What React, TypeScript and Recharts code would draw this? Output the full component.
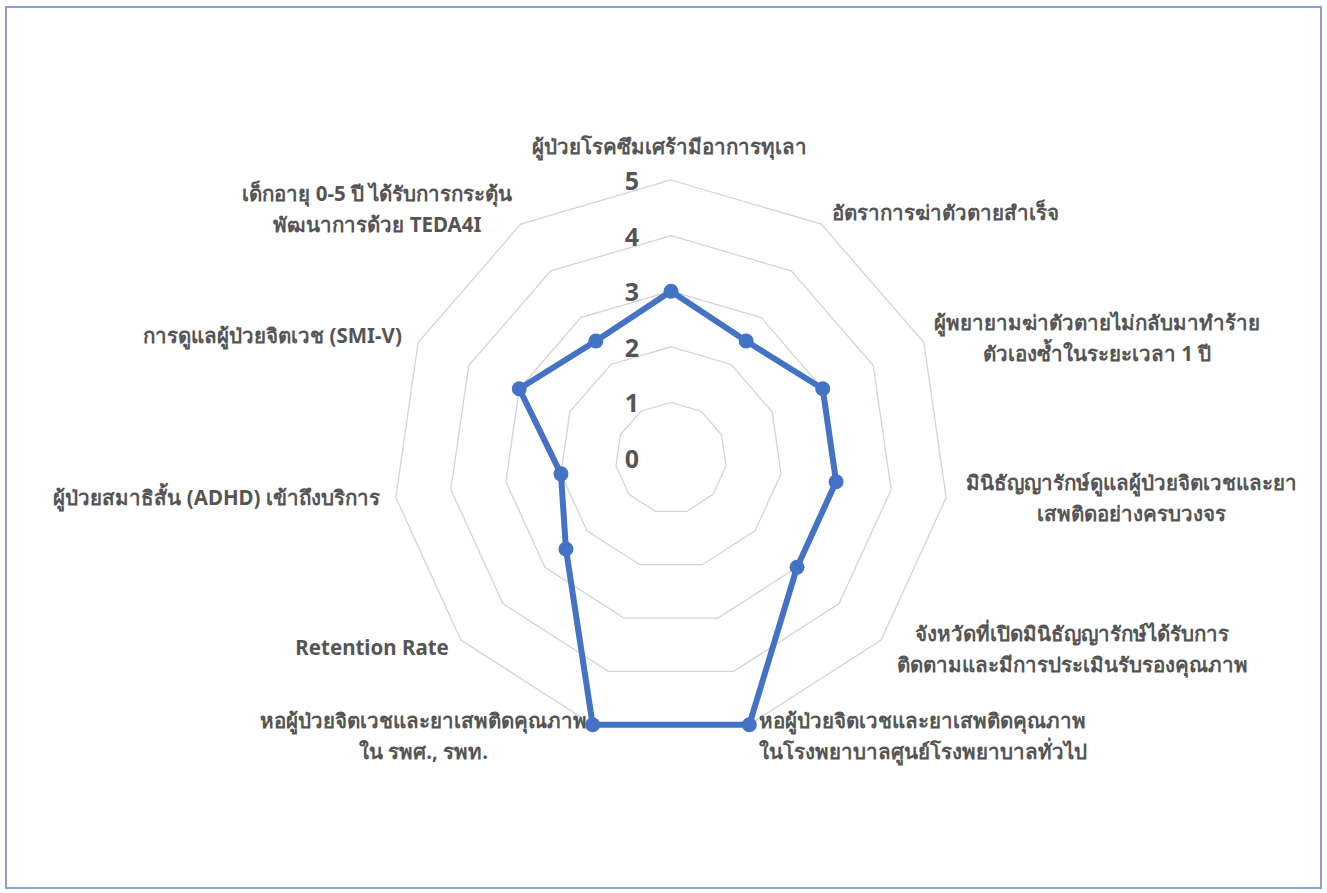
import React from "react";
import { RadarChart, Radar, PolarGrid, PolarAngleAxis, PolarRadiusAxis } from "recharts";

// Indicator names (line breaks mark where a label wraps)
const categories: string[] = [
  "ผู้ป่วยโรคซึมเศร้ามีอาการทุเลา",
  "อัตราการฆ่าตัวตายสำเร็จ",
  "ผู้พยายามฆ่าตัวตายไม่กลับมาทำร้าย\nตัวเองซ้ำในระยะเวลา 1 ปี",
  "มินิธัญญารักษ์ดูแลผู้ป่วยจิตเวชและยา\nเสพติดอย่างครบวงจร",
  "จังหวัดที่เปิดมินิธัญญารักษ์ได้รับการ\nติดตามและมีการประเมินรับรองคุณภาพ",
  "หอผู้ป่วยจิตเวชและยาเสพติดคุณภาพ\nในโรงพยาบาลศูนย์โรงพยาบาลทั่วไป",
  "หอผู้ป่วยจิตเวชและยาเสพติดคุณภาพ\nใน รพศ., รพท.",
  "Retention Rate",
  "ผู้ป่วยสมาธิสั้น (ADHD) เข้าถึงบริการ",
  "การดูแลผู้ป่วยจิตเวช (SMI-V)",
  "เด็กอายุ 0-5 ปี ได้รับการกระตุ้น\nพัฒนาการด้วย TEDA4I",
];

// Score per indicator
const scores: number[] = [3, 2.5, 3, 3, 3, 5, 5, 2.5, 2, 3, 2.5];

// Radial scale ticks
const radiusTicks: number[] = [0, 1, 2, 3, 4, 5];

const data = categories.map((name, i) => ({ name, value: scores[i] }));

// Label placement relative to each angle-axis tick point
const labelLayout: { dx: number; dy: number; anchor: "start" | "middle" | "end" }[] = [
  { dx: -2, dy: -26, anchor: "middle" },
  { dx: 6, dy: -5, anchor: "start" },
  { dx: 166, dy: -17, anchor: "middle" },
  { dx: 177, dy: -17, anchor: "middle" },
  { dx: 185, dy: -12, anchor: "middle" },
  { dx: 171, dy: -12, anchor: "middle" },
  { dx: -167, dy: -12, anchor: "middle" },
  { dx: -6, dy: 2, anchor: "end" },
  { dx: -8, dy: -2, anchor: "end" },
  { dx: -9, dy: -4, anchor: "end" },
  { dx: -139, dy: -24, anchor: "middle" },
];

const FONT = "'Noto Sans', 'DejaVu Sans', sans-serif";
const TEXT = "#555555";
const SERIES = "#4472c4";
const LINE_GAP = 31;

const AngleTick = (props: any) => {
  const { x, y, payload } = props;
  const idx = props.index ?? payload?.index ?? 0;
  const lay = labelLayout[idx] || { dx: 0, dy: 0, anchor: "middle" };
  const lines = String(payload.value).split("\n");
  return (
    <g>
      {lines.map((ln, k) => (
        <text
          key={k}
          x={x + lay.dx}
          y={y + lay.dy + k * LINE_GAP}
          textAnchor={lay.anchor}
          dominantBaseline="central"
          fill={TEXT}
          fontFamily={FONT}
          fontWeight={700}
          fontSize={20.5}
        >
          {ln}
        </text>
      ))}
    </g>
  );
};

const RadiusTick = (props: any) => {
  const { x, y, payload } = props;
  return (
    <text
      x={x - 39}
      y={y}
      textAnchor="middle"
      dominantBaseline="central"
      fill={TEXT}
      fontFamily={FONT}
      fontWeight={700}
      fontSize={25}
    >
      {payload.value}
    </text>
  );
};

const SeriesDot = (p: any) => (
  <circle key={`dot-${p.index}`} cx={p.cx} cy={p.cy} r={7.5} fill={SERIES} stroke="none" />
);

export default function App() {
  return (
    <div style={{ position: "absolute", left: 0, top: 0, width: 1327, height: 893, background: "#fff" }}>
      <div
        style={{
          position: "absolute",
          left: 5,
          top: 6,
          width: 1317,
          height: 883,
          boxSizing: "border-box",
          border: "2px solid #8c9fcf",
        }}
      />
      <div style={{ position: "absolute", left: 0, top: 0 }}>
        <RadarChart width={1327} height={893} data={data} cx={671} cy={458} outerRadius={278}>
          <PolarGrid gridType="polygon" radialLines={false} stroke="#cfd4e0" strokeWidth={1.3} />
          <PolarAngleAxis dataKey="name" tick={<AngleTick />} tickLine={false} axisLine={false} />
          <PolarRadiusAxis
            angle={90}
            domain={[0, 5]}
            ticks={radiusTicks as any}
            tickCount={6}
            axisLine={false}
            tickLine={false}
            tick={<RadiusTick />}
          />
          <Radar
            dataKey="value"
            stroke={SERIES}
            strokeWidth={6}
            strokeLinejoin="round"
            fill="none"
            fillOpacity={0}
            dot={SeriesDot}
            isAnimationActive={false}
          />
        </RadarChart>
      </div>
    </div>
  );
}
